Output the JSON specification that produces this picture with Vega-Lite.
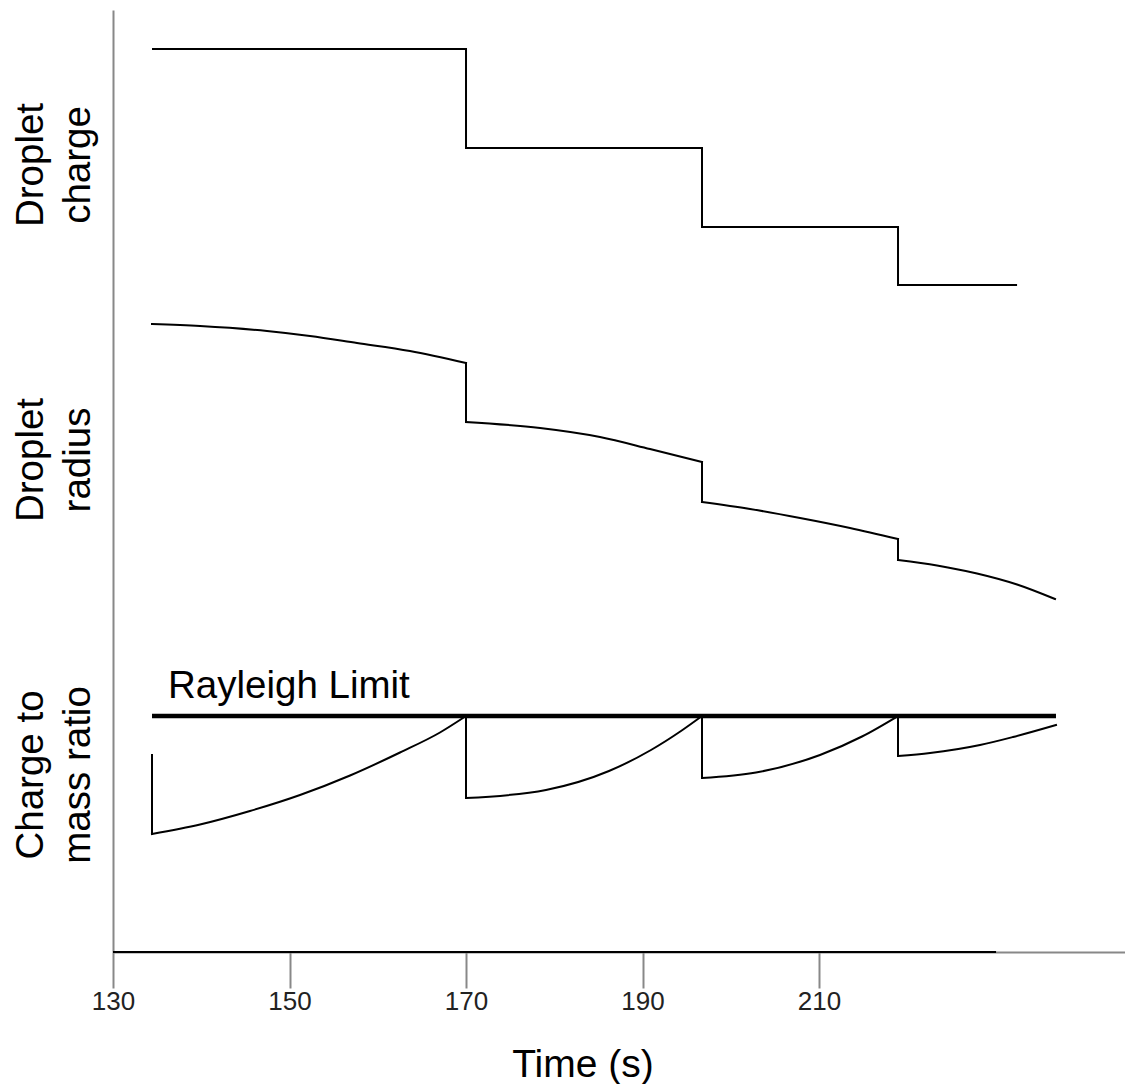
{
  "$schema": "https://vega.github.io/schema/vega-lite/v6.json",
  "autosize": "none",
  "width": 1012,
  "height": 942,
  "padding": {"left": 113, "top": 10, "right": 0, "bottom": 132},
  "background": "white",
  "config": {"view": {"stroke": null}, "font": "Liberation Sans"},
  "datasets": {
    "charge": [
      {"i": 1, "t": 134.42, "y": 90.3},
      {"i": 2, "t": 170.0, "y": 90.3},
      {"i": 3, "t": 170.0, "y": 80.4},
      {"i": 4, "t": 196.74, "y": 80.4},
      {"i": 5, "t": 196.74, "y": 72.5},
      {"i": 6, "t": 218.95, "y": 72.5},
      {"i": 7, "t": 218.95, "y": 66.7},
      {"i": 8, "t": 232.44, "y": 66.7}
    ],
    "curves": [
      {"seg": "R1", "i": 1, "t": 134.42, "y": 62.8},
      {"seg": "R1", "i": 2, "t": 139.86, "y": 62.6},
      {"seg": "R1", "i": 3, "t": 147.45, "y": 62.1},
      {"seg": "R1", "i": 4, "t": 152.32, "y": 61.6},
      {"seg": "R1", "i": 5, "t": 157.65, "y": 60.9},
      {"seg": "R1", "i": 6, "t": 163.65, "y": 60.1},
      {"seg": "R1", "i": 7, "t": 170.0, "y": 58.9},
      {"seg": "RV1", "i": 1, "t": 170.0, "y": 58.9},
      {"seg": "RV1", "i": 2, "t": 170.0, "y": 53.0},
      {"seg": "R2", "i": 1, "t": 170.0, "y": 53.0},
      {"seg": "R2", "i": 2, "t": 178.39, "y": 52.4},
      {"seg": "R2", "i": 3, "t": 185.18, "y": 51.5},
      {"seg": "R2", "i": 4, "t": 190.85, "y": 50.3},
      {"seg": "R2", "i": 5, "t": 196.74, "y": 49.0},
      {"seg": "RV2", "i": 1, "t": 196.74, "y": 49.0},
      {"seg": "RV2", "i": 2, "t": 196.74, "y": 45.0},
      {"seg": "R3", "i": 1, "t": 196.74, "y": 45.0},
      {"seg": "R3", "i": 2, "t": 202.18, "y": 44.3},
      {"seg": "R3", "i": 3, "t": 207.85, "y": 43.4},
      {"seg": "R3", "i": 4, "t": 213.51, "y": 42.4},
      {"seg": "R3", "i": 5, "t": 218.95, "y": 41.3},
      {"seg": "RV3", "i": 1, "t": 218.95, "y": 41.3},
      {"seg": "RV3", "i": 2, "t": 218.95, "y": 39.2},
      {"seg": "R4", "i": 1, "t": 218.95, "y": 39.2},
      {"seg": "R4", "i": 2, "t": 223.37, "y": 38.65},
      {"seg": "R4", "i": 3, "t": 227.9, "y": 37.85},
      {"seg": "R4", "i": 4, "t": 232.44, "y": 36.75},
      {"seg": "R4", "i": 5, "t": 236.74, "y": 35.3},

      {"seg": "QV0", "i": 1, "t": 134.42, "y": 19.7},
      {"seg": "QV0", "i": 2, "t": 134.42, "y": 11.8},
      {"seg": "Q1", "i": 1, "t": 134.42, "y": 11.8},
      {"seg": "Q1", "i": 2, "t": 139.86, "y": 12.75},
      {"seg": "Q1", "i": 3, "t": 145.52, "y": 14.1},
      {"seg": "Q1", "i": 4, "t": 151.19, "y": 15.7},
      {"seg": "Q1", "i": 5, "t": 156.86, "y": 17.65},
      {"seg": "Q1", "i": 6, "t": 162.52, "y": 19.95},
      {"seg": "Q1", "i": 7, "t": 167.05, "y": 21.95},
      {"seg": "Q1", "i": 8, "t": 170.0, "y": 23.6},
      {"seg": "QV1", "i": 1, "t": 170.0, "y": 23.6},
      {"seg": "QV1", "i": 2, "t": 170.0, "y": 15.4},
      {"seg": "Q2", "i": 1, "t": 170.0, "y": 15.4},
      {"seg": "Q2", "i": 2, "t": 179.06, "y": 16.2},
      {"seg": "Q2", "i": 3, "t": 186.2, "y": 18.1},
      {"seg": "Q2", "i": 4, "t": 190.96, "y": 20.2},
      {"seg": "Q2", "i": 5, "t": 194.36, "y": 22.1},
      {"seg": "Q2", "i": 6, "t": 196.74, "y": 23.6},
      {"seg": "QV2", "i": 1, "t": 196.74, "y": 23.6},
      {"seg": "QV2", "i": 2, "t": 196.74, "y": 17.4},
      {"seg": "Q3", "i": 1, "t": 196.74, "y": 17.4},
      {"seg": "Q3", "i": 2, "t": 202.86, "y": 17.95},
      {"seg": "Q3", "i": 3, "t": 210.11, "y": 19.7},
      {"seg": "Q3", "i": 4, "t": 214.87, "y": 21.55},
      {"seg": "Q3", "i": 5, "t": 218.95, "y": 23.6},
      {"seg": "QV3", "i": 1, "t": 218.95, "y": 23.6},
      {"seg": "QV3", "i": 2, "t": 218.95, "y": 19.6},
      {"seg": "Q4", "i": 1, "t": 218.95, "y": 19.6},
      {"seg": "Q4", "i": 2, "t": 222.58, "y": 19.9},
      {"seg": "Q4", "i": 3, "t": 228.24, "y": 20.7},
      {"seg": "Q4", "i": 4, "t": 231.98, "y": 21.5},
      {"seg": "Q4", "i": 5, "t": 236.85, "y": 22.7}
    ],
    "limit": [
      {"t": 134.42, "y": 23.6},
      {"t": 236.85, "y": 23.6}
    ],
    "labels": [
      {"label": "Droplet\ncharge", "t": 122.07, "y": 78.7},
      {"label": "Droplet\nradius", "t": 122.07, "y": 49.2},
      {"label": "Charge to\nmass ratio", "t": 122.07, "y": 17.7}
    ],
    "note": [
      {"label": "Rayleigh Limit", "t": 136.23, "y": 25.4}
    ]
  },
  "layer": [
    {
      "data": {"name": "charge"},
      "mark": {"type": "line", "color": "black", "strokeWidth": 2, "strokeJoin": "miter"},
      "encoding": {
        "x": {
          "field": "t", "type": "quantitative",
          "scale": {"domain": [130, 244.67], "nice": false, "zero": false},
          "axis": {
            "values": [130, 150, 170, 190, 210],
            "domainColor": "#888888", "domainWidth": 2,
            "tickColor": "#888888", "tickWidth": 2, "tickSize": 36,
            "labelFontSize": 26, "labelColor": "#222222", "labelPadding": 0,
            "labelFlush": false, "labelOverlap": false, "grid": false,
            "title": "Time (s)", "titleFontSize": 39, "titleFontWeight": "normal",
            "titleColor": "black", "titleX": 469.5, "titleY": 124,
            "titleBaseline": "alphabetic", "titleAlign": "center"
          }
        },
        "y": {
          "field": "y", "type": "quantitative",
          "scale": {"domain": [0, 94.2], "nice": false, "zero": false},
          "axis": {
            "domainColor": "#888888", "domainWidth": 2,
            "ticks": false, "labels": false, "grid": false, "title": null
          }
        },
        "order": {"field": "i", "type": "quantitative"}
      }
    },
    {
      "data": {"name": "curves"},
      "mark": {"type": "line", "color": "black", "strokeWidth": 2, "interpolate": "monotone", "strokeCap": "square"},
      "encoding": {
        "x": {"field": "t", "type": "quantitative"},
        "y": {"field": "y", "type": "quantitative"},
        "detail": {"field": "seg"},
        "order": {"field": "i", "type": "quantitative"}
      }
    },
    {
      "data": {"name": "limit"},
      "mark": {"type": "line", "color": "black", "strokeWidth": 4.5},
      "encoding": {
        "x": {"field": "t", "type": "quantitative"},
        "y": {"field": "y", "type": "quantitative"}
      }
    },
    {
      "data": {"values": [{"a": 130, "b": 230.06, "y": 0}]},
      "mark": {"type": "rule", "color": "black", "strokeWidth": 2},
      "encoding": {
        "x": {"field": "a", "type": "quantitative"},
        "x2": {"field": "b"},
        "y": {"field": "y", "type": "quantitative"}
      }
    },
    {
      "data": {"name": "labels"},
      "mark": {"type": "text", "angle": 270, "align": "center", "baseline": "alphabetic", "fontSize": 38.5, "lineHeight": 47, "lineBreak": "\n", "color": "black"},
      "encoding": {
        "x": {"field": "t", "type": "quantitative"},
        "y": {"field": "y", "type": "quantitative"},
        "text": {"field": "label"}
      }
    },
    {
      "data": {"name": "note"},
      "mark": {"type": "text", "align": "left", "baseline": "alphabetic", "fontSize": 38.5, "color": "black"},
      "encoding": {
        "x": {"field": "t", "type": "quantitative"},
        "y": {"field": "y", "type": "quantitative"},
        "text": {"field": "label"}
      }
    }
  ]
}
